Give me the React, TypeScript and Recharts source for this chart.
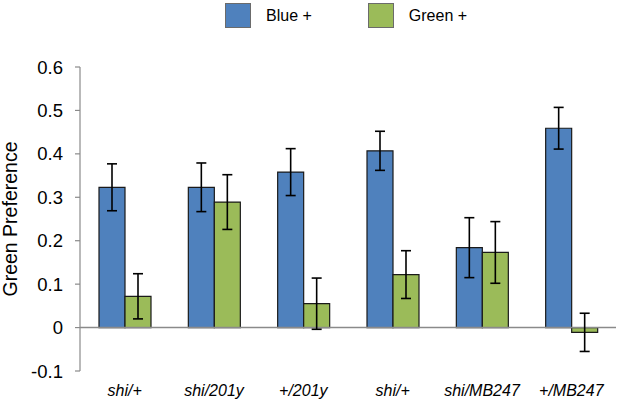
import React from 'react'
import {
  BarChart, Bar, ErrorBar, XAxis, YAxis, ReferenceLine,
} from 'recharts'

const genotypes = ['shi/+', 'shi/201y', '+/201y', 'shi/+', 'shi/MB247', '+/MB247']
const bluePlus = [0.323, 0.323, 0.358, 0.407, 0.184, 0.459]
const blueErr = [0.054, 0.056, 0.054, 0.045, 0.069, 0.048]
const greenPlus = [0.072, 0.289, 0.055, 0.122, 0.173, -0.011]
const greenErr = [0.052, 0.063, 0.059, 0.055, 0.071, 0.044]
const yTicks = [-0.1, 0, 0.1, 0.2, 0.3, 0.4, 0.5, 0.6]

const data = genotypes.map((g, i) => ({
  g,
  blue: bluePlus[i],
  blueErr: blueErr[i],
  green: greenPlus[i],
  greenErr: greenErr[i],
}))

const FONT = '"Liberation Sans", Arial, sans-serif'
const BLUE = '#4f81bd'
const GREEN = '#9bbb59'

function LegendBox() {
  const items = [
    { label: 'Blue +', color: BLUE, gap: 56 },
    { label: 'Green +', color: GREEN, gap: 0 },
  ]
  return (
    <div style={{ position: 'absolute', top: 3, left: 225, display: 'flex', alignItems: 'center', fontFamily: FONT, fontSize: 16, color: '#000' }}>
      {items.map((it) => (
        <div key={it.label} style={{ display: 'flex', alignItems: 'center', marginRight: it.gap }}>
          <span style={{ width: 24, height: 23, background: it.color, border: '1px solid #6b6b6b', marginRight: 15 }} />
          <span>{it.label}</span>
        </div>
      ))}
    </div>
  )
}

export default function App() {
  return (
    <div style={{ position: 'absolute', left: 0, top: 0, width: 617, height: 402, background: '#fff' }}>
      <BarChart
        width={617}
        height={402}
        data={data}
        margin={{ top: 67, right: 1, left: 0, bottom: 0 }}
        barGap={0}
        barSize={26}
      >
        <XAxis
          dataKey="g"
          axisLine={false}
          tickLine={false}
          tickSize={6}
          tickMargin={8}
          height={31}
          interval={0}
          tick={{ fontSize: 16, fontStyle: 'italic', fill: '#000', fontFamily: FONT }}
        />
        <YAxis
          domain={[-0.1, 0.6]}
          ticks={yTicks}
          width={80}
          tickSize={5}
          tickMargin={12}
          tickFormatter={(v) => String(Math.round(v * 10) / 10)}
          axisLine={{ stroke: '#8a8a8a', strokeWidth: 1.2 }}
          tickLine={{ stroke: '#8a8a8a', strokeWidth: 1.2 }}
          tick={{ fontSize: 18.5, fill: '#000', fontFamily: FONT }}
          label={{
            value: 'Green Preference',
            angle: -90,
            position: 'insideLeft',
            offset: 0,
            dx: 10,
            style: { textAnchor: 'middle', fontSize: 19.5, fill: '#000', fontFamily: FONT },
          }}
        />
        <ReferenceLine y={0} stroke="#8a8a8a" strokeWidth={1.5} />
        <Bar dataKey="blue" fill={BLUE} stroke="#1a1a1a" strokeWidth={1.2} isAnimationActive={false}>
          <ErrorBar dataKey="blueErr" width={5} stroke="#000" strokeWidth={1.6} />
        </Bar>
        <Bar dataKey="green" fill={GREEN} stroke="#1a1a1a" strokeWidth={1.2} isAnimationActive={false}>
          <ErrorBar dataKey="greenErr" width={5} stroke="#000" strokeWidth={1.6} />
        </Bar>
      </BarChart>
      <LegendBox />
    </div>
  )
}
